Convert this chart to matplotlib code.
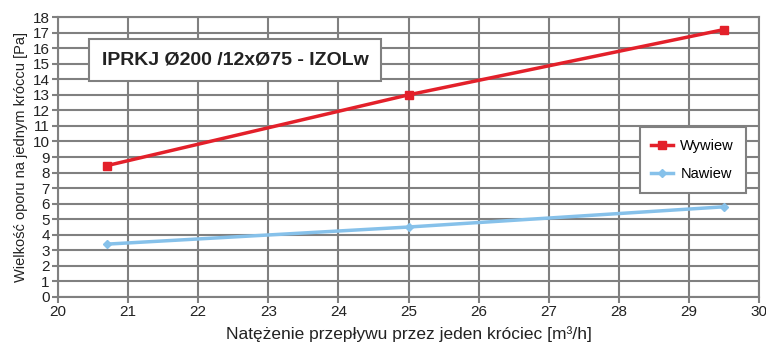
import matplotlib.pyplot as plt

plt.rcParams['font.family'] = ['Liberation Sans', 'DejaVu Sans']

# przepływ przez jeden króciec [m3/h] i opór [Pa]
flow = [20.7, 25.0, 29.5]
wywiew = [8.45, 13.0, 17.2]
nawiew = [3.4, 4.5, 5.8]

x_ticks = list(range(20, 31))
y_ticks = list(range(0, 19))

fig = plt.figure(figsize=(7.66, 3.42), dpi=100)
ax = fig.add_axes([0.0757, 0.1316, 0.9153, 0.8184])

grid_col = '#808080'

ax.plot(flow, wywiew, color='#e3202a', linewidth=2.5, marker='s', markersize=6,
        label='Wywiew', zorder=3)
ax.plot(flow, nawiew, color='#86c1ea', linewidth=2.5, marker='D', markersize=4,
        label='Nawiew', zorder=3)

ax.set_xlim(20, 30)
ax.set_ylim(0, 18)
ax.set_xticks(x_ticks)
ax.set_yticks(y_ticks)
ax.grid(True, color=grid_col, linewidth=1.5)
ax.set_axisbelow(True)
for s in ax.spines.values():
    s.set_color(grid_col)
    s.set_linewidth(1.5)
ax.tick_params(colors=grid_col, labelcolor='#222222', labelsize=11,
               width=1.5, length=4, pad=2)

ax.set_xlabel('Natężenie przepływu przez jeden króciec [m³/h]',
              fontsize=12.5, color='#222222', labelpad=5)
ax.set_ylabel('Wielkość oporu na jednym króccu [Pa]', fontsize=10.5,
              color='#222222', labelpad=3)

ax.text(0.253, 0.848, 'IPRKJ Ø200 /12xØ75 - IZOLw', transform=ax.transAxes,
        ha='center', va='center', fontsize=14, fontweight='bold', color='#222222',
        bbox=dict(boxstyle='square,pad=0.65', facecolor='white',
                  edgecolor=grid_col, linewidth=1.5), zorder=4)

leg = ax.legend(loc='upper right', bbox_to_anchor=(0.981, 0.607), borderaxespad=0,
                fancybox=False, framealpha=1, edgecolor=grid_col, fontsize=10.5,
                handlelength=1.5, handletextpad=0.5, borderpad=0.8,
                labelspacing=1.0)
leg.get_frame().set_linewidth(1.5)

fig.savefig('out.png', dpi=100)
